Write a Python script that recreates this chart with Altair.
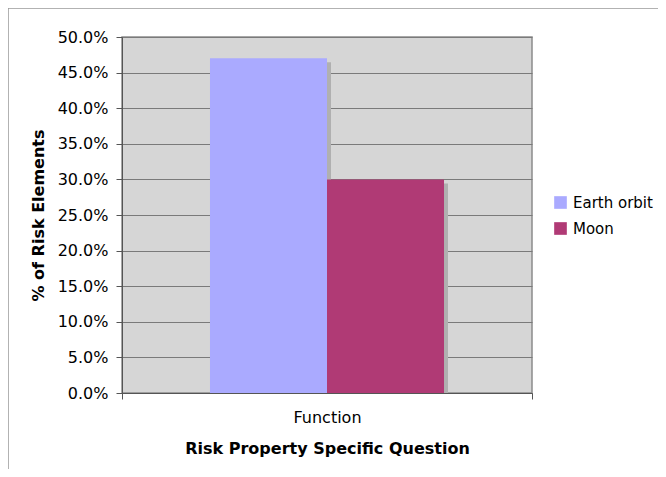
import altair as alt
import pandas as pd

# ---- data ----
questions = ["Function", "Function"]
destinations = ["Earth orbit", "Moon"]
shares = [0.470, 0.300]
colors = ["#aaaaff", "#b03a75"]
y_ticks = [0.0, 0.05, 0.10, 0.15, 0.20, 0.25, 0.30, 0.35, 0.40, 0.45, 0.50]

df = pd.DataFrame({"question": questions, "destination": destinations, "share": shares})

FONT = "DejaVu Sans"

y_enc = alt.Y(
    "share:Q",
    title="% of Risk Elements",
    scale=alt.Scale(domain=[0, 0.5], nice=False),
    axis=alt.Axis(values=y_ticks, format=".1%", tickSize=6, labelPadding=8,
                  titlePadding=11, labelFontSize=16, titleFontSize=16,
                  titleFontWeight="bold", grid=True, gridColor="#7a7a7a",
                  domainColor="#555555", tickColor="#555555"),
)

# bars placed by destination, centred in the plot
x_dest = alt.X(
    "destination:N", sort=destinations, title=None, axis=None,
    scale=alt.Scale(paddingOuter=0.752, paddingInner=0),
)

base = alt.Chart(df)

# category axis ("Function") with ticks at the plot edges
axis_layer = base.mark_bar(opacity=0).encode(
    x=alt.X(
        "question:N",
        title="Risk Property Specific Question",
        scale=alt.Scale(paddingInner=0, paddingOuter=0),
        axis=alt.Axis(orient="bottom", labelAngle=0, tickBand="extent", tickSize=6,
                      labelPadding=10, titlePadding=15, labelFontSize=16,
                      titleFontSize=16, titleFontWeight="bold",
                      domainColor="#555555", tickColor="#555555"),
    ),
    y=y_enc,
)

shadow = base.mark_bar(color="#b0b0b0", xOffset=4, yOffset=4, clip=True).encode(
    x=x_dest, y=y_enc
)

bars = base.mark_bar().encode(
    x=x_dest, y=y_enc,
    color=alt.Color(
        "destination:N", sort=destinations,
        scale=alt.Scale(domain=destinations, range=colors),
        legend=alt.Legend(title=None, orient="none", legendX=431, legendY=158,
                          symbolType="square", symbolSize=160, symbolStrokeWidth=0,
                          labelFontSize=15, rowPadding=10, labelOffset=5),
    ),
)

frame = alt.Chart(pd.DataFrame({"frame": [0]})).mark_rect(
    fill=None, stroke="#999999", strokeWidth=1.5
).encode(
    x=alt.value(-114), x2=alt.value(700), y=alt.value(-29), y2=alt.value(600)
)

chart = alt.layer(axis_layer, shadow, bars, frame).resolve_scale(
    x="independent"
).resolve_axis(
    x="independent"
).properties(
    width=410, height=356,
    autosize=alt.AutoSizeParams(type="none"),
    padding={"left": 114, "top": 29, "right": 126, "bottom": 76},
).configure(
    font=FONT,
).configure_view(
    fill="#d6d6d6", stroke="#8c8c8c", strokeWidth=1.5,
).configure_axis(
    labelColor="black", titleColor="black", labelFont=FONT, titleFont=FONT,
).configure_legend(
    labelColor="black", labelFont=FONT,
)

chart.save("out.html", embed_options={"renderer": "svg", "actions": False})
